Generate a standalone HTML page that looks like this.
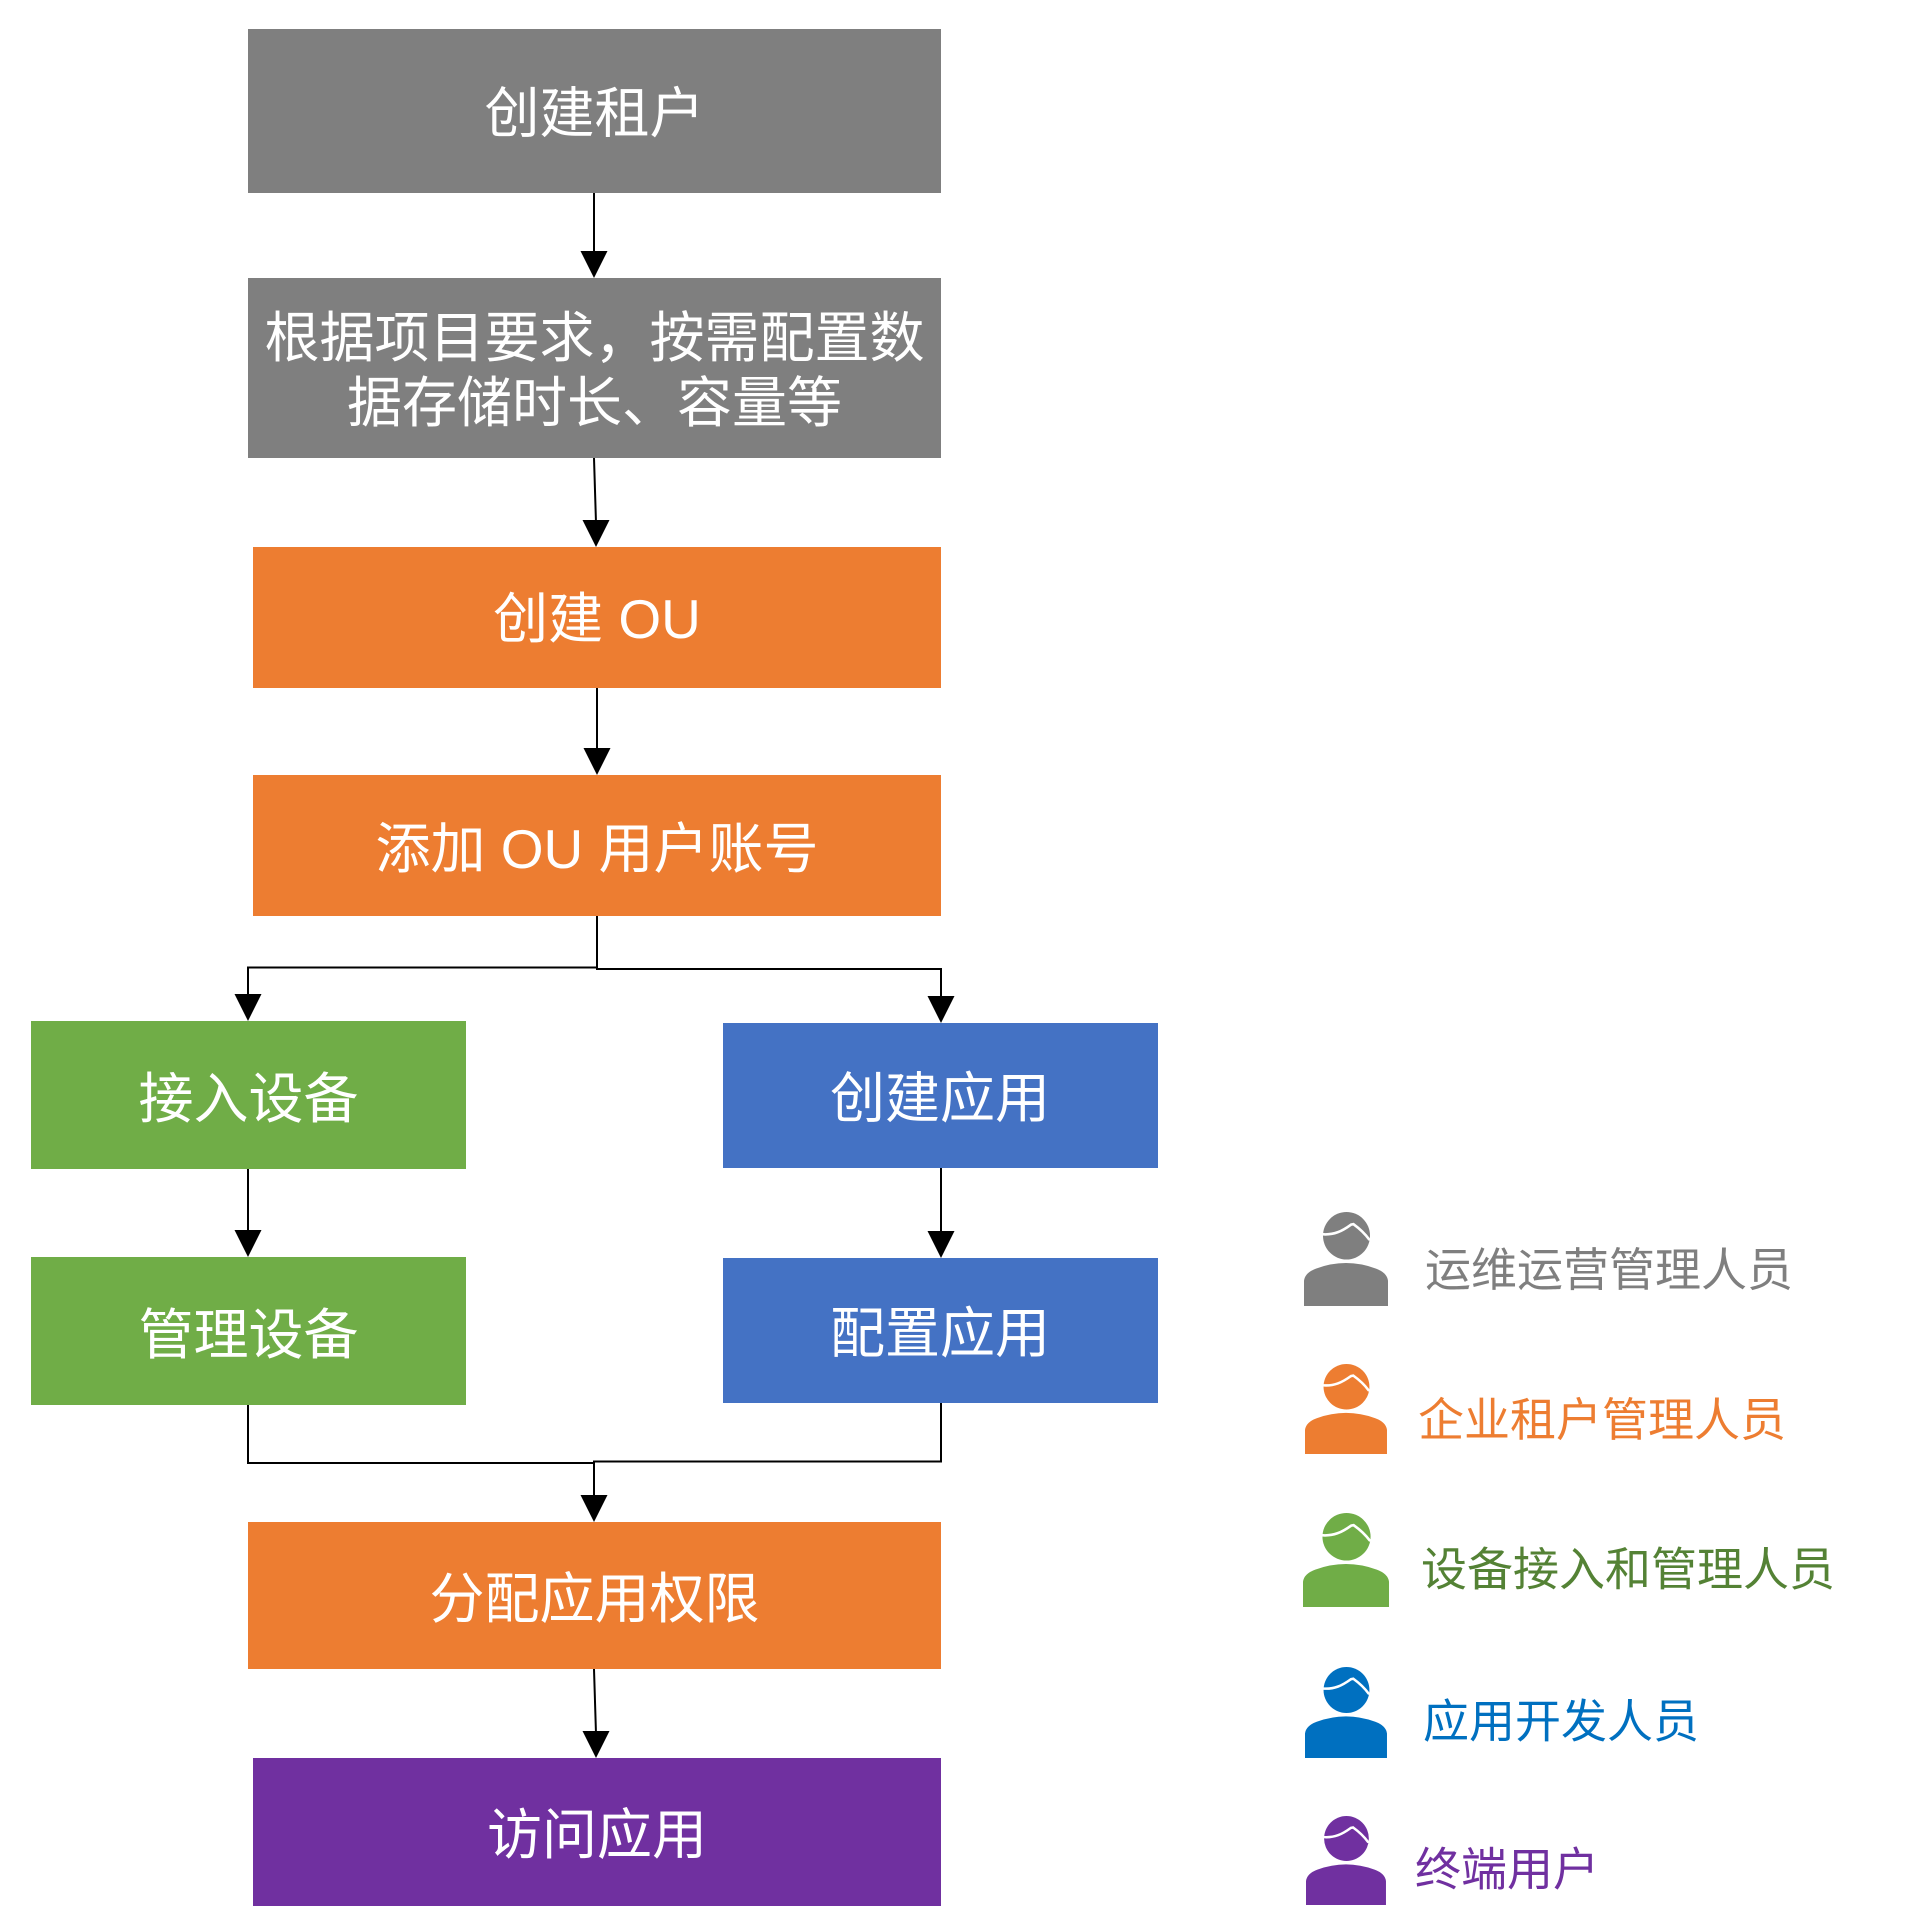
<!DOCTYPE html>
<html>
<head>
<meta charset="utf-8">
<style>
html,body{margin:0;padding:0;background:#fff;}
body{width:1914px;height:1926px;overflow:hidden;}
svg{display:block;}
.bt{font-family:"Liberation Sans","Noto Sans CJK SC",sans-serif;font-size:55px;fill:#fff;text-anchor:middle;}
.lg{font-family:"Liberation Sans","Noto Sans CJK SC",sans-serif;font-size:46px;}
</style>
</head>
<body>
<svg width="1914" height="1926" viewBox="0 0 1914 1926" xmlns="http://www.w3.org/2000/svg">
<defs>
  <g id="person">
    <circle cx="42.5" cy="23.5" r="23.5"/>
    <path d="M0,93 V68 Q1,60 12,56 Q42,45 72,56 Q83,60 84,68 V93 Z"/>
    <path d="M18,22 C30,23 38,19 47,12.5 L49.5,12 C55,16 60,20 65,27" fill="none" stroke="#fff" stroke-width="2.6" stroke-linecap="round"/>
  </g>
</defs>

<!-- Boxes -->
<rect x="248" y="29" width="693" height="164" fill="#7f7f7f"/>
<rect x="248" y="278" width="693" height="180" fill="#7f7f7f"/>
<rect x="253" y="547" width="688" height="141" fill="#ed7d31"/>
<rect x="253" y="775" width="688" height="141" fill="#ed7d31"/>
<rect x="31" y="1021" width="435" height="148" fill="#70ad47"/>
<rect x="31" y="1257" width="435" height="148" fill="#70ad47"/>
<rect x="723" y="1023" width="435" height="145" fill="#4472c4"/>
<rect x="723" y="1258" width="435" height="145" fill="#4472c4"/>
<rect x="248" y="1522" width="693" height="147" fill="#ed7d31"/>
<rect x="253" y="1758" width="688" height="148" fill="#7030a0"/>

<!-- Box texts -->
<text class="bt" x="594.5" y="132.5">创建租户</text>
<text class="bt" x="594.5" y="357">根据项目要求，按需配置数</text>
<text class="bt" x="594.5" y="422">据存储时长、容量等</text>
<text class="bt" x="597" y="638">创建 OU</text>
<text class="bt" x="597" y="868">添加 OU 用户账号</text>
<text class="bt" x="248.5" y="1118">接入设备</text>
<text class="bt" x="248.5" y="1354">管理设备</text>
<text class="bt" x="940" y="1117.5">创建应用</text>
<text class="bt" x="940" y="1352.5">配置应用</text>
<text class="bt" x="594.5" y="1618">分配应用权限</text>
<text class="bt" x="597" y="1854">访问应用</text>

<!-- Connectors -->
<g stroke="#000" stroke-width="2" fill="none">
  <line x1="594" y1="193" x2="594" y2="254"/>
  <line x1="594" y1="458" x2="596" y2="523"/>
  <line x1="597" y1="688" x2="597" y2="751"/>
  <polyline points="597,916 597,967.5 248,967.5 248,997"/>
  <polyline points="597,967.5 597,969 941,969 941,999"/>
  <line x1="248" y1="1169" x2="248" y2="1233"/>
  <line x1="941" y1="1168" x2="941" y2="1234"/>
  <polyline points="248,1405 248,1463 594,1463"/>
  <polyline points="941,1403 941,1461.5 594,1461.5 594,1498"/>
  <line x1="594" y1="1669" x2="596" y2="1734"/>
</g>
<g fill="#000">
  <polygon points="594,278 580.5,251 607.5,251"/>
  <polygon points="596,547 582.5,520 609.5,520"/>
  <polygon points="597,775 583.5,748 610.5,748"/>
  <polygon points="248,1021 234.5,994 261.5,994"/>
  <polygon points="941,1023 927.5,996 954.5,996"/>
  <polygon points="248,1257 234.5,1230 261.5,1230"/>
  <polygon points="941,1258 927.5,1231 954.5,1231"/>
  <polygon points="594,1522 580.5,1495 607.5,1495"/>
  <polygon points="596,1758 582.5,1731 609.5,1731"/>
</g>

<!-- Legend icons -->
<use href="#person" fill="#7f7f7f" transform="translate(1304,1212) scale(1,1.011)"/>
<use href="#person" fill="#ed7d31" transform="translate(1305,1364) scale(0.976,0.968)"/>
<use href="#person" fill="#70ad47" transform="translate(1303,1513) scale(1.024,1.011)"/>
<use href="#person" fill="#0070c0" transform="translate(1305,1667) scale(0.976,0.978)"/>
<use href="#person" fill="#7030a0" transform="translate(1306,1816) scale(0.952,0.957)"/>

<!-- Legend texts -->
<text class="lg" x="1425" y="1286" fill="#7f7f7f">运维运营管理人员</text>
<text class="lg" x="1418" y="1436" fill="#ed7d31">企业租户管理人员</text>
<text class="lg" x="1421" y="1585.5" fill="#548235">设备接入和管理人员</text>
<text class="lg" x="1423" y="1737.5" fill="#0070c0">应用开发人员</text>
<text class="lg" x="1415" y="1885.5" fill="#7030a0">终端用户</text>
</svg>
</body>
</html>
